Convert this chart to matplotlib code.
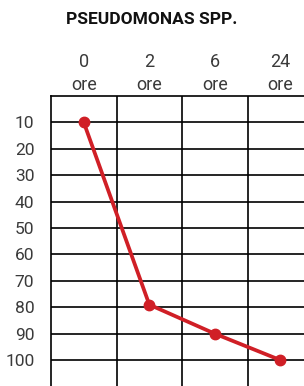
import matplotlib.pyplot as plt
from matplotlib.ticker import FixedLocator

title = 'PSEUDOMONAS SPP.'
hours = ['0', '2', '6', '24']
values = [10, 79, 90, 100]
y_ticks = [10, 20, 30, 40, 50, 60, 70, 80, 90, 100]

plt.rcParams['font.family'] = ['Roboto', 'DejaVu Sans']

fig = plt.figure(figsize=(3.04, 3.86), dpi=100)
ax = fig.add_axes([51 / 304, 0, 1 - 51 / 304, 290 / 386])

pos = [i + 0.5 for i in range(len(hours))]
ax.plot(pos, values, color='#d01f26', lw=2.7, marker='o', ms=7.5,
        solid_capstyle='round', zorder=3, clip_on=False)

ax.set_xlim(0, 3.86)
ax.set_ylim(109.8, 0)

# column headers on top
ax.xaxis.tick_top()
ax.set_xticks(pos)
ax.set_xticklabels([f'{h}\nore' for h in hours], fontsize=13, color='#3a3a3a',
                   linespacing=1.32)
ax.tick_params(axis='x', which='major', length=0, pad=1.5)
ax.xaxis.set_minor_locator(FixedLocator([1, 2, 3]))
ax.tick_params(axis='x', which='minor', length=0)
ax.grid(axis='x', which='minor', color='black', lw=1.2)

ax.set_yticks(y_ticks)
ax.set_yticklabels([str(v) for v in y_ticks], fontsize=12.5, color='#3a3a3a')
ax.tick_params(axis='y', length=0, pad=12)
ax.grid(axis='y', which='major', color='black', lw=1.2)

for s in ['right', 'bottom']:
    ax.spines[s].set_visible(False)
for s in ['top', 'left']:
    ax.spines[s].set_linewidth(1.2)
    ax.spines[s].set_color('black')

fig.text(0.5, 1 - 20 / 386, title, ha='center', va='center', fontsize=12.5,
         fontweight='bold', color='#111111')

fig.savefig('out.png', dpi=100)
